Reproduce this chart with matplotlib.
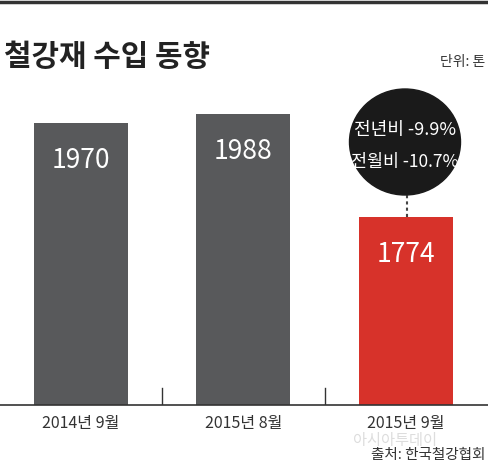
import matplotlib
matplotlib.use("Agg")
import matplotlib.pyplot as plt

plt.rcParams['font.family'] = ['Noto Sans CJK KR', 'DejaVu Sans']

# data
categories = ["2014년 9월", "2015년 8월", "2015년 9월"]
values = [1970, 1988, 1774]
colors = ["#58595b", "#58595b", "#d7322a"]
yoy_label = "전년비 -9.9%"
mom_label = "전월비 -10.7%"

fig = plt.figure(figsize=(4.88, 4.66), dpi=100)
ax = fig.add_axes([0, 61 / 466, 1, 405 / 466])

x = list(range(len(values)))
bars = ax.bar(x, values, width=0.578, color=colors, zorder=2)
ax.set_xlim(-0.498, 2.505)
ax.set_ylim(1383, 2225)

for b, v in zip(bars, values):
    ax.text(b.get_x() + b.get_width() / 2, v - 78, str(v), color="white",
            ha="center", va="center", fontsize=19)

# axis / separators
for s in ["top", "right", "left"]:
    ax.spines[s].set_visible(False)
ax.spines["bottom"].set_color("#333333")
ax.spines["bottom"].set_linewidth(1.2)
ax.set_yticks([])
ax.set_xticks([])
for t in [0.5, 1.5]:
    ax.plot([t, t], [1383, 1418], color="#333333", lw=1, zorder=1)

for i, c in enumerate(categories):
    ax.text(i, 1345, c, ha="center", va="center", fontsize=11.5, color="#333333",
            clip_on=False)

# callout circle + dotted leader
ax.plot([2.007, 2.007], [1774, 1820], color="#444444", lw=1.5, ls=(0, (1.5, 1.5)))
circle = plt.Circle((405 / 488, 1 - 142 / 466), 53 / 466, transform=fig.transFigure,
                    color="#1a1a1a", zorder=3)
circle.set_transform(fig.transFigure)
fig.patches.append(circle)
fig.text(405 / 488, 1 - 130 / 466, yoy_label, color="white", ha="center", va="center",
         fontsize=13, zorder=4)
fig.text(405 / 488, 1 - 162 / 466, mom_label, color="white", ha="center", va="center",
         fontsize=12.5, zorder=4)

# titles and notes
fig.add_artist(plt.Line2D([0, 1], [1 - 1.5 / 466, 1 - 1.5 / 466], color="#333333", lw=2.5))
fig.text(0.008, 1 - 57 / 466, "철강재 수입 동향", fontsize=21.5, fontweight="bold",
         ha="left", va="center", color="#222222")
fig.text(0.995, 1 - 62 / 466, "단위: 톤", fontsize=10, ha="right", va="center",
         color="#333333")
fig.text(395 / 488, 1 - 441 / 466, "아시아투데이", fontsize=11, ha="center", va="center",
         color="#dddddd")
fig.text(0.995, 1 - 455 / 466, "출처: 한국철강협회", fontsize=10.5, ha="right", va="center",
         color="#333333")

fig.savefig("out.png", dpi=100)
